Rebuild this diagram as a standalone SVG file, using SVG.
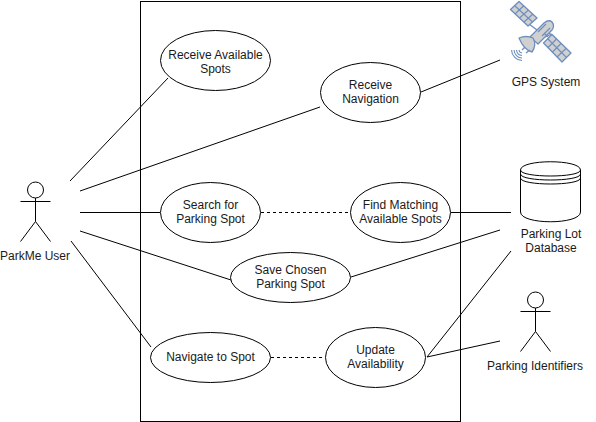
<svg xmlns="http://www.w3.org/2000/svg" width="596" height="422" viewBox="0 0 596 422">
<style>
text{font-family:"Liberation Sans",Arial,sans-serif;font-size:12px;fill:#1a1a1a;text-anchor:middle}
.s{fill:#fff;stroke:#000;stroke-width:1}
.l{fill:none;stroke:#000;stroke-width:1}
.d{stroke-dasharray:3 3}
.sat{fill:#d0d0d0;stroke:#6c8ebf;stroke-width:1.3;stroke-linejoin:round}
.grid{fill:none;stroke:#6c8ebf;stroke-width:1.1}
</style>
<rect x="0" y="0" width="596" height="422" fill="#fff"/>
<g id="system"><rect class="s" x="140.500" y="1.500" width="320" height="420"/></g>
<g id="connectors">
<path class="l" d="M70 181L168 78"/>
<path class="l" d="M80 191L320 107"/>
<path class="l" d="M80 212.500L160 212.500"/>
<path class="l" d="M80 231L231 280"/>
<path class="l" d="M71 241L151 347"/>
<path class="l d" d="M261 212.500L350 212.500"/>
<path class="l d" d="M271 357.500L325 357.500"/>
<path class="l" d="M421 92L500 60"/>
<path class="l" d="M451 212.500L511 212.500"/>
<path class="l" d="M351 277L500 230"/>
<path class="l" d="M427 357L511 251"/>
<path class="l" d="M427 357L500 341"/>
</g>
<g id="receive-spots"><ellipse class="s" cx="215.500" cy="60.500" rx="55" ry="30"/><text x="215.500" y="59">Receive Available</text><text x="215.500" y="73">Spots</text></g>
<g id="receive-nav"><ellipse class="s" cx="370.500" cy="92.500" rx="50" ry="30"/><text x="370.500" y="89">Receive</text><text x="370.500" y="103">Navigation</text></g>
<g id="search"><ellipse class="s" cx="210.500" cy="212.500" rx="50" ry="30"/><text x="210.500" y="209">Search for</text><text x="210.500" y="223">Parking Spot</text></g>
<g id="find"><ellipse class="s" cx="400.500" cy="212.500" rx="50" ry="30"/><text x="400.500" y="209">Find Matching</text><text x="400.500" y="223">Available Spots</text></g>
<g id="save"><ellipse class="s" cx="290.500" cy="277.500" rx="60" ry="25"/><text x="290.500" y="274">Save Chosen</text><text x="290.500" y="288">Parking Spot</text></g>
<g id="navigate"><ellipse class="s" cx="210.500" cy="357.500" rx="60" ry="25"/><text x="210.500" y="361">Navigate to Spot</text></g>
<g id="update"><ellipse class="s" cx="375.500" cy="357.500" rx="50" ry="30"/><text x="375.500" y="354">Update</text><text x="375.500" y="368">Availability</text></g>
<g id="parkme-user">
<circle class="s" cx="35.500" cy="190" r="8"/>
<path class="l" d="M35.500 198V221.500M20.500 201.500H50.500M20.500 241.500L35.500 221.500L50.500 241.500"/>
<text x="35" y="260">ParkMe User</text>
</g>
<g id="parking-identifiers">
<circle class="s" cx="535.500" cy="300" r="8"/>
<path class="l" d="M535.500 308V331.500M520.500 311.500H550.500M520.500 351.500L535.500 331.500L550.500 351.500"/>
<text x="535" y="370">Parking Identifiers</text>
</g>
<g id="gps-system">
<path class="sat" d="M529 24L537 30M545 37L552 34M549 33L556 39"/>
<path class="sat" d="M510.500 9.500L519 1.500L537 18L528 26Z"/>
<path class="grid" d="M515 14L524 5.500M519.500 18L528.500 10M524 22L533 14M514.500 5.500L532.500 22"/>
<path class="sat" d="M543.500 43L552 34.500L571 53L562 62Z"/>
<path class="grid" d="M548 47.500L556.500 39M552.500 52L561 43.500M557 57L566 48.500M547.500 38.500L566.500 57.500"/>
<path class="sat" d="M530 37L544 23Q549 19 552 22Q555 26 552 30L538 44Z"/>
<path class="grid" d="M538 32L546 24M542 36L550 28M544 33L548 37"/>
<path class="sat" d="M519 38Q526 35 533 38Q537 45 532 52Q524 50 519 38Z"/>
<path class="sat" d="M525 47L522 50M530 50L526 53"/>
<path class="grid" stroke-width="1.2" d="M511.500 50A11 11 0 0 0 522 60.500M514 50A8.500 8.500 0 0 0 522 58M516.500 50A6 6 0 0 0 522 55.500M519 50A3.500 3.500 0 0 0 522 53"/>
<text x="546" y="86">GPS System</text>
</g>
<g id="parking-lot-database">
<path class="s" d="M520.500 170C520.500 159 580.500 159 580.500 170V212C580.500 225 520.500 225 520.500 212Z"/>
<path class="l" d="M520.500 170C520.500 178 580.500 178 580.500 170M520.500 174C520.500 182 580.500 182 580.500 174M520.500 178C520.500 186 580.500 186 580.500 178"/>
<text x="551" y="238">Parking Lot</text>
<text x="551" y="252">Database</text>
</g>
</svg>
